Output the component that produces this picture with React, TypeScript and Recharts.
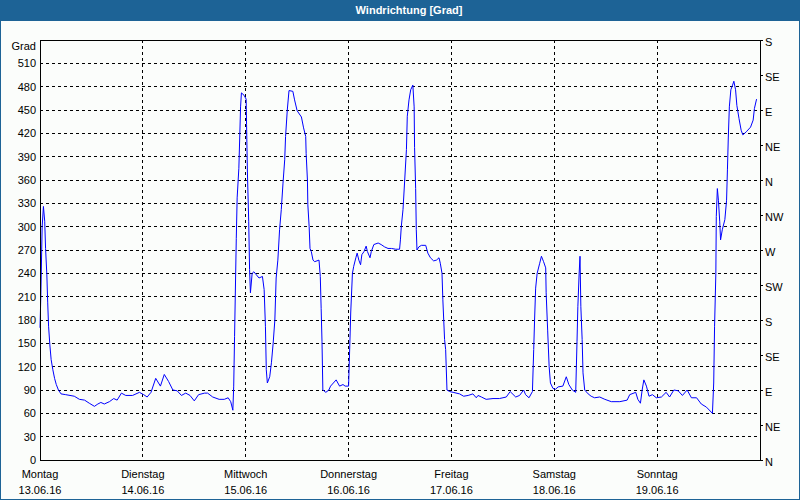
import { LineChart, Line, XAxis, YAxis, CartesianGrid, ReferenceLine } from 'recharts'

// hours since Monday 00:00
const hours = [
  0, 0.2, 0.5, 0.8, 1.1, 1.3, 1.6, 1.8, 2.0, 2.3, 2.6, 3.0, 3.4, 3.8, 4.3, 4.9, 6, 8, 9.2, 10.4,
  11.5, 12.7, 13.5, 14.2, 15, 16.2, 17.2, 18, 19, 20, 21.6, 23.2, 24.2, 25, 25.9, 27, 28.1, 29, 30, 31,
  32, 33, 34, 35, 36, 37, 38.4, 39.1, 40.3, 41.8, 43, 43.9, 44.5, 45.0, 45.2, 45.4, 45.8, 46.0, 46.4, 46.6,
  46.8, 47.0, 47.6, 48.1, 48.2, 48.4, 48.7, 48.9, 49.1, 49.5, 49.9, 50.5, 51.1, 51.9, 52.3, 52.6, 52.8, 53.05, 53.6, 54.0,
  54.4, 54.8, 55.1, 55.5, 55.9, 56.3, 56.7, 57.1, 57.3, 57.7, 58.1, 59.0, 59.4, 60.0, 61.0, 61.5, 62.0, 62.1, 62.4, 62.5,
  62.8, 63.0, 63.3, 63.7, 64.1, 65.1, 65.4, 65.6, 65.8, 66.0, 66.7, 67.4, 67.8, 69.1, 69.9, 70.7, 71.2, 72.0, 72.3, 72.5,
  72.9, 73.2, 73.7, 74.0, 74.4, 74.8, 75.1, 75.6, 76.1, 76.4, 77.0, 77.3, 77.9, 78.9, 79.6, 80.4, 81.2, 82.0, 83.0, 83.9,
  84.1, 84.3, 84.7, 85.1, 85.5, 85.7, 86.1, 86.5, 87.0, 87.3, 87.4, 87.65, 87.8, 87.96, 88.4, 89.0, 90.0, 90.5, 91.1, 91.85,
  92.5, 93.1, 93.4, 93.8, 94.0, 94.4, 94.65, 94.96, 95.6, 96.4, 97.9, 98.85, 99.9, 101.0, 101.8, 102.2, 103.0, 104.1, 105.7, 107.2,
  108.8, 109.7, 111.0, 111.9, 112.85, 113.3, 114.1, 114.9, 115.2, 115.4, 115.65, 116.0, 116.6, 117.0, 117.5, 118.0, 118.1, 118.45, 118.8, 119.1,
  119.7, 120.3, 120.9, 122.0, 122.8, 123.4, 124.2, 125.0, 125.3, 125.5, 125.8, 126.0, 126.2, 126.5, 126.7, 127.1, 127.9, 128.6, 129.4, 130.6,
  131.8, 133.3, 135.3, 137.0, 137.6, 139.0, 139.5, 140.1, 140.5, 140.9, 141.5, 142.1, 142.9, 143.8, 145.0, 146.1, 146.9, 147.9, 148.9, 149.9,
  151.0, 152.0, 153.2, 154.3, 155.5, 156.9, 157.2, 157.4, 157.7, 157.8, 158.05, 158.3, 158.6, 158.8, 159.2, 159.8, 160.2, 160.4, 160.6, 160.85,
  161.2, 161.6, 161.9, 162.3, 162.6, 163.1, 163.6, 164.0, 164.8, 165.8, 166.4, 166.7, 167.2,
]

const degrees = [
  170, 212, 300, 326, 307, 272, 238, 202, 172, 148, 129, 116, 105, 97, 90, 85, 84, 82, 78, 77,
  73, 69, 72, 74, 72, 75, 79, 77, 86, 83, 83, 87, 84, 81, 87, 105, 95, 110, 101, 90,
  89, 83, 86, 83, 76, 84, 86, 86, 81, 78, 78, 80, 75, 64, 95, 159, 285, 337, 375, 414,
  454, 472, 469, 464, 431, 369, 307, 245, 215, 240, 242, 238, 234, 236, 219, 172, 116, 99, 107, 125,
  150, 180, 234, 257, 296, 322, 356, 386, 416, 450, 475, 474, 463, 449, 441, 427, 416, 394, 360, 328,
  300, 272, 268, 257, 255, 257, 236, 195, 152, 90, 87, 90, 95, 103, 95, 97, 95, 95, 150, 189,
  240, 249, 260, 266, 257, 251, 264, 268, 275, 268, 260, 268, 277, 279, 277, 274, 272, 272, 271, 271,
  283, 300, 322, 360, 399, 442, 463, 476, 482, 454, 402, 349, 296, 270, 274, 276, 276, 266, 260, 256,
  257, 260, 253, 240, 206, 155, 142, 90, 88, 87, 85, 82, 83, 85, 80, 83, 81, 78, 79, 79,
  81, 88, 81, 83, 90, 84, 80, 88, 142, 180, 221, 240, 253, 262, 255, 247, 215, 167, 120, 99,
  92, 91, 94, 95, 107, 97, 90, 87, 152, 197, 240, 262, 197, 155, 112, 90, 85, 82, 80, 81,
  78, 75, 75, 77, 84, 87, 78, 73, 90, 103, 95, 82, 84, 80, 81, 87, 81, 90, 89, 83,
  90, 80, 80, 72, 68, 60, 99, 172, 240, 313, 349, 334, 307, 283, 296, 309, 334, 373, 414, 454,
  476, 482, 487, 476, 456, 439, 424, 418, 422, 428, 437, 452, 464,
]

const dayNames = ['Montag', 'Dienstag', 'Mittwoch', 'Donnerstag', 'Freitag', 'Samstag', 'Sonntag']
const dates = ['13.06.16', '14.06.16', '15.06.16', '16.06.16', '17.06.16', '18.06.16', '19.06.16']
const dayTicks = [0, 24, 48, 72, 96, 120, 144, 168]
const gradTicks = [0, 30, 60, 90, 120, 150, 180, 210, 240, 270, 300, 330, 360, 390, 420, 450, 480, 510]
const compassTicks = [0, 45, 90, 135, 180, 225, 270, 315, 360, 405, 450, 495, 540]
const compassLabels = ['N', 'NE', 'E', 'SE', 'S', 'SW', 'W', 'NW', 'N', 'NE', 'E', 'SE', 'S']

const data = hours.map((h, i) => ({ h, deg: degrees[i] }))

const FONT = '"Liberation Sans", Arial, sans-serif'
const BLUE = '#1d6396'

const DayTick = (props: any) => {
  const { x, index } = props
  if (index >= dayNames.length) return null
  return (
    <g>
      <text x={x} y={478} textAnchor="middle" fontSize={11} fontFamily={FONT} fill="#000">{dayNames[index]}</text>
      <text x={x} y={494} textAnchor="middle" fontSize={11} fontFamily={FONT} fill="#000">{dates[index]}</text>
    </g>
  )
}

const GradTick = (props: any) => {
  const { x, y, payload } = props
  return (
    <text x={x} y={y + 4} textAnchor="end" fontSize={11} fontFamily={FONT} fill="#000">{payload.value}</text>
  )
}

const CompassTick = (props: any) => {
  const { x, y, payload } = props
  const i = compassTicks.indexOf(payload.value)
  return (
    <text x={x} y={y + 6} textAnchor="start" fontSize={11} fontFamily={FONT} fill="#000">{compassLabels[i]}</text>
  )
}

export default function App() {
  return (
    <div style={{ position: 'absolute', left: 0, top: 0, width: 800, height: 500, background: '#fbfdfb', fontFamily: FONT }}>
      <style>{`.recharts-cartesian-grid line, .recharts-cartesian-axis-line, .recharts-cartesian-axis-tick-line, .recharts-reference-line-line { shape-rendering: crispEdges; }`}</style>
      <LineChart width={800} height={500} data={data} margin={{ top: 40, right: 0, bottom: 0, left: 10 }}>
        <CartesianGrid stroke="#000" strokeDasharray="3 3" />
        <XAxis
          dataKey="h"
          type="number"
          domain={[0, 168]}
          ticks={dayTicks}
          interval={0}
          height={40}
          tickSize={0}
          tickMargin={0}
          tickLine={false}
          axisLine={{ stroke: '#000' }}
          tick={<DayTick />}
        />
        <YAxis
          domain={[0, 540]}
          ticks={gradTicks}
          interval={0}
          width={30}
          tickSize={2}
          tickMargin={2}
          tickLine={false}
          axisLine={{ stroke: '#000' }}
          tick={<GradTick />}
        />
        <YAxis
          yAxisId="right"
          orientation="right"
          type="number"
          domain={[0, 540]}
          ticks={compassTicks}
          interval={0}
          width={40}
          tickSize={3}
          tickMargin={2}
          tickLine={{ stroke: '#000' }}
          axisLine={{ stroke: '#000' }}
          tick={<CompassTick />}
        />
        <ReferenceLine y={540} stroke="#000" />
        {/* compass scale shares the same data, drawn invisibly so the right axis gets its ticks */}
        <Line yAxisId="right" type="linear" dataKey="deg" stroke="none" dot={false} activeDot={false} legendType="none" isAnimationActive={false} />
        <Line type="linear" dataKey="deg" stroke="#0000ff" strokeWidth={1} dot={false} isAnimationActive={false} />
      </LineChart>
      <div style={{ position: 'absolute', left: 0, top: 0, width: 800, height: 21, background: BLUE, color: '#fff', fontWeight: 'bold', fontSize: 11, lineHeight: '21px', textAlign: 'center', paddingLeft: 18, boxSizing: 'border-box' }}>
        Windrichtung [Grad]
      </div>
      <div style={{ position: 'absolute', left: 0, top: 40, width: 36, textAlign: 'right', fontSize: 11, lineHeight: '12px', color: '#000' }}>Grad</div>
      <div style={{ position: 'absolute', left: 0, top: 0, width: 800, height: 500, border: `1px solid ${BLUE}`, boxSizing: 'border-box', pointerEvents: 'none' }} />
    </div>
  )
}
